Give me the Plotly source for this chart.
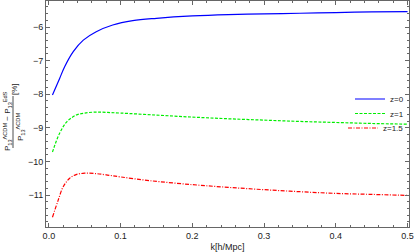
import plotly.graph_objects as go

# ---- data ----
k_z0 = [0.005, 0.015, 0.022, 0.034, 0.048, 0.066, 0.089, 0.117, 0.15, 0.2, 0.25, 0.3, 0.35, 0.4, 0.45, 0.5]
r_z0 = [-8.02, -7.53, -7.18, -6.73, -6.39, -6.14, -5.94, -5.81, -5.74, -5.67, -5.63, -5.61, -5.59, -5.57, -5.55, -5.54]

k_z1 = [0.005, 0.015, 0.025, 0.038, 0.05, 0.066, 0.08, 0.1, 0.15, 0.2, 0.25, 0.3, 0.35, 0.4, 0.45, 0.5]
r_z1 = [-9.72, -9.16, -8.82, -8.62, -8.56, -8.53, -8.54, -8.56, -8.62, -8.68, -8.73, -8.77, -8.81, -8.84, -8.87, -8.89]

k_z15 = [0.005, 0.013, 0.02, 0.029, 0.038, 0.05, 0.065, 0.08, 0.1, 0.14, 0.2, 0.25, 0.3, 0.35, 0.4, 0.45, 0.5]
r_z15 = [-11.66, -11.15, -10.75, -10.50, -10.39, -10.35, -10.36, -10.40, -10.46, -10.57, -10.69, -10.77, -10.84, -10.90, -10.95, -10.98, -11.01]

series_names = ["z=0", "z=1", "z=1.5"]
x_ticks = [0.0, 0.1, 0.2, 0.3, 0.4, 0.5]
x_ticklabels = ["0.0", "0.1", "0.2", "0.3", "0.4", "0.5"]
y_ticks = [-6, -7, -8, -9, -10, -11]

FONT = "Liberation Sans, Arial, sans-serif"

fig = go.Figure()
fig.add_trace(go.Scatter(x=k_z0, y=r_z0, mode="lines", name=series_names[0], legend="legend",
                         line=dict(color="#0000FF", width=1.2, shape="spline")))
fig.add_trace(go.Scatter(x=k_z1, y=r_z1, mode="lines", name=series_names[1], legend="legend2",
                         line=dict(color="#00EE00", width=1.2, dash="3px,1.5px", shape="spline")))
fig.add_trace(go.Scatter(x=k_z15, y=r_z15, mode="lines", name=series_names[2], legend="legend3",
                         line=dict(color="#FF0000", width=1.2, dash="4px,1.5px,1px,1.5px", shape="spline")))

axis_common = dict(
    showgrid=False, zeroline=False, showline=True, linecolor="#666666", linewidth=1,
    mirror="ticks", ticks="inside", ticklen=4, tickwidth=1, tickcolor="#666666",
    tickfont=dict(family=FONT, size=9, color="#222222"),
)

fig.update_xaxes(range=[-0.004, 0.502], tickvals=x_ticks, ticktext=x_ticklabels,
                 minor=dict(ticks="inside", ticklen=2, dtick=0.02, tickcolor="#666666"),
                 title=dict(text="k[h/Mpc]", font=dict(family=FONT, size=9, color="#222222"), standoff=3),
                 **axis_common)
fig.update_yaxes(range=[-11.95, -5.226], tickvals=y_ticks,
                 minor=dict(ticks="inside", ticklen=2, dtick=0.2, tickcolor="#666666"),
                 **axis_common)

leg_common = dict(font=dict(family=FONT, size=8, color="#222222"), bgcolor="rgba(0,0,0,0)",
                  x=1.0, xanchor="right", yanchor="middle", borderwidth=0)
H = 226.0
def py(px):
    return (227 - px) / H
fig.update_layout(
    showlegend=True,
    legend=dict(y=py(99), **leg_common),
    legend2=dict(y=py(113.5), **leg_common),
    legend3=dict(y=py(128), **leg_common),
)

# y-axis title built as a fraction
tfont = dict(family=FONT, size=8, color="#222222")
fig.add_annotation(xref="paper", yref="paper", x=0, y=py(121), xshift=-38, textangle=-90,
                   text="P<sub>13</sub><sup>ΛCDM</sup> − P<sub>13</sub><sup>EdS</sup>",
                   showarrow=False, font=tfont, xanchor="center", yanchor="middle")
fig.add_annotation(xref="paper", yref="paper", x=0, y=py(127), xshift=-26, textangle=-90,
                   text="P<sub>13</sub><sup>ΛCDM</sup>",
                   showarrow=False, font=tfont, xanchor="center", yanchor="middle")
fig.add_annotation(xref="paper", yref="paper", x=0, y=py(89), xshift=-32, textangle=-90,
                   text="[%]", showarrow=False, font=tfont, xanchor="center", yanchor="middle")
fig.add_shape(type="line", xref="paper", yref="paper", xsizemode="pixel", xanchor=0,
              x0=-33, x1=-33, y0=py(148), y1=py(96), line=dict(color="#222222", width=0.8))

fig.update_layout(
    width=415, height=252,
    margin=dict(l=46, r=6, t=1, b=25),
    paper_bgcolor="white", plot_bgcolor="white",
    font=dict(family=FONT, size=9, color="#222222"),
)

fig.write_html("out.html", config={"displayModeBar": False},
               post_script="document.body.style.margin='0';document.body.style.padding='0';document.body.style.overflow='hidden';")
